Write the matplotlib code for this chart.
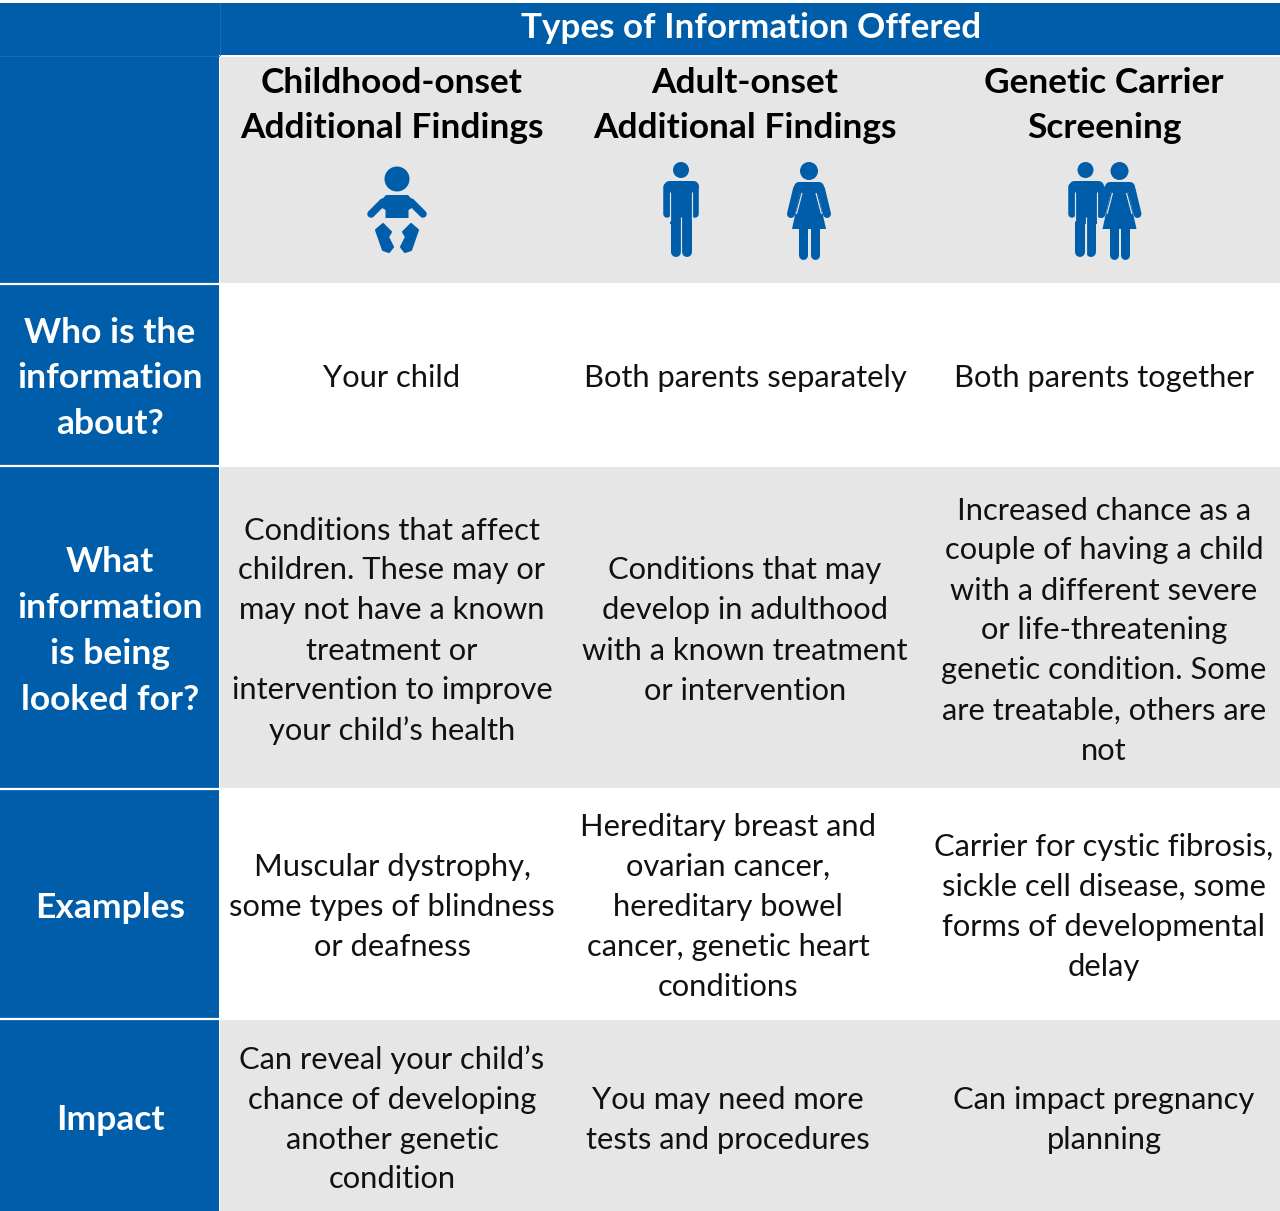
import matplotlib.pyplot as plt
from matplotlib.patches import Circle, Polygon, Rectangle

plt.rcParams["font.family"] = ["Lato", "DejaVu Sans"]

BLUE = "#005DAA"
GREY = "#E6E6E6"
WIDTH, HEIGHT = 1280, 1211

title = "Types of Information Offered"
col_heads = [
    ["Childhood-onset", "Additional Findings"],
    ["Adult-onset", "Additional Findings"],
    ["Genetic Carrier", "Screening"],
]
row_heads = [
    ["Who is the", "information", "about?"],
    ["What", "information", "is being", "looked for?"],
    ["Examples"],
    ["Impact"],
]
who = [["Your child"], ["Both parents separately"], ["Both parents together"]]
what = [
    ["Conditions that affect", "children. These may or", "may not have a known",
     "treatment or", "intervention to improve", "your child\u2019s health"],
    ["Conditions that may", "develop in adulthood", "with a known treatment", "or intervention"],
    ["Increased chance as a", "couple of having a child", "with a different severe",
     "or life-threatening", "genetic condition. Some", "are treatable, others are", "not"],
]
examples = [
    ["Muscular dystrophy,", "some types of blindness", "or deafness"],
    ["Hereditary breast and", "ovarian cancer,", "hereditary bowel",
     "cancer, genetic heart", "conditions"],
    ["Carrier for cystic fibrosis,", "sickle cell disease, some",
     "forms of developmental", "delay"],
]
impact = [
    ["Can reveal your child\u2019s", "chance of developing", "another genetic", "condition"],
    ["You may need more", "tests and procedures"],
    ["Can impact pregnancy", "planning"],
]
rows = [who, what, examples, impact]

# pixel layout
row_tops = [285, 467, 790, 1020, 1211]
row_fills = ["white", GREY, "white", GREY]
row_text_y = [375.5, 628, 904.5, 1117]
col_x = {0: [392, 745, 1104], 1: [392, 745, 1104], 2: [392, 728, 1104], 3: [392, 728, 1104]}
row_head_x = 110


def lines(ax, x, yc, rows_of_text, step, **kw):
    n = len(rows_of_text)
    for i, s in enumerate(rows_of_text):
        ax.text(x, yc + (i - (n - 1) / 2) * step, s, ha="center", va="center_baseline", **kw)


def limb(ax, x0, y0, x1, y1, w, color=BLUE, cap="round", z=3):
    ax.plot([x0, x1], [y0, y1], color=color, lw=w * 0.72, solid_capstyle=cap, zorder=z)


def man(ax, cx):
    ax.add_patch(Circle((cx, 170), 8, color=BLUE, lw=0, zorder=3))
    limb(ax, cx - 12, 186, cx + 12, 186, 11)
    ax.add_patch(Rectangle((cx - 11, 186), 22, 38, color=BLUE, lw=0, zorder=3))
    for sign in (-1, 1):
        limb(ax, cx + sign * 14, 187, cx + sign * 14, 214, 7.5)
        limb(ax, cx + sign * 11, 192, cx + sign * 11, 221, 1.2, color=GREY, cap="butt", z=4)
        limb(ax, cx + sign * 5.5, 222, cx + sign * 5.5, 252, 10)
    limb(ax, cx, 217, cx, 258, 1.2, color=GREY, cap="butt", z=4)


def woman(ax, cx):
    ax.add_patch(Circle((cx, 171), 9, color=BLUE, lw=0, zorder=3))
    limb(ax, cx - 10, 187, cx + 10, 187, 10)
    ax.add_patch(Polygon([(cx - 8, 188), (cx + 8, 188), (cx + 17, 229), (cx - 17, 229)],
                         color=BLUE, lw=0, zorder=3))
    for sign in (-1, 1):
        limb(ax, cx + sign * 12, 189, cx + sign * 18, 214, 8)
        limb(ax, cx + sign * 7, 193, cx + sign * 12.5, 214, 1.2, color=GREY, cap="butt", z=4)
        limb(ax, cx + sign * 5.6, 226, cx + sign * 5.6, 254.5, 9)


def baby(ax, cx):
    ax.add_patch(Circle((cx, 179), 12.5, color=BLUE, lw=0, zorder=3))
    ax.add_patch(Polygon([(cx - 11, 195), (cx + 11, 195), (cx + 20, 205), (cx + 11.5, 210),
                          (cx + 11.5, 218), (cx - 11.5, 218), (cx - 11.5, 210), (cx - 20, 205)],
                         color=BLUE, lw=0, zorder=3))
    for sign in (-1, 1):
        limb(ax, cx + sign * 14, 202, cx + sign * 26, 214, 7.5)
        foot = [(21, 230), (14, 224), (6, 232), (9, 237), (4, 247), (8, 252), (14, 250)]
        ax.add_patch(Polygon([(cx + sign * dx, y) for dx, y in foot], facecolor=BLUE,
                             edgecolor=BLUE, lw=1.5, joinstyle="round", zorder=3))


def main():
    fig = plt.figure(figsize=(WIDTH / 100, HEIGHT / 100), dpi=100)
    ax = fig.add_axes([0, 0, 1, 1])
    ax.set_xlim(0, WIDTH)
    ax.set_ylim(HEIGHT, 0)
    ax.axis("off")

    # title band and left column
    ax.add_patch(Rectangle((0, 3), WIDTH, 52, color=BLUE, lw=0))
    ax.add_patch(Rectangle((0, 3), 219, HEIGHT, color=BLUE, lw=0))
    ax.add_patch(Rectangle((220, 56.5), WIDTH - 220, 227.5, color=GREY, lw=0))
    ax.plot([219.5, 219.5], [3, 55], color="#1A6DB4", lw=0.7, zorder=2)
    ax.plot([0, 219], [55.5, 55.5], color="#1A6DB4", lw=0.7, zorder=2)
    ax.text(751, 25.5, title, color="white", fontsize=25.2, fontweight="bold",
            ha="center", va="center_baseline")

    for x, head in zip(col_x[0], col_heads):
        lines(ax, x, 102.5, head, 45.5, color="black", fontsize=25.4, fontweight="bold")

    baby(ax, 397)
    man(ax, 681)
    woman(ax, 809)
    man(ax, 1085.5)
    woman(ax, 1119.5)

    for r, top in enumerate(row_tops[:-1]):
        bottom = row_tops[r + 1]
        ax.add_patch(Rectangle((220, top), WIDTH - 220, bottom - top, color=row_fills[r], lw=0))
        ax.plot([0, WIDTH], [top - 1, top - 1], color="white", lw=1.6, zorder=2)
        lines(ax, row_head_x, row_text_y[r], row_heads[r], 45.7, color="white",
              fontsize=25.5, fontweight="bold")
        for c, cell in enumerate(rows[r]):
            lines(ax, col_x[r][c], row_text_y[r], cell, 40, color="#111111", fontsize=22.2)

    fig.savefig("out.png", dpi=100)
    plt.close(fig)


if __name__ == "__main__":
    main()
